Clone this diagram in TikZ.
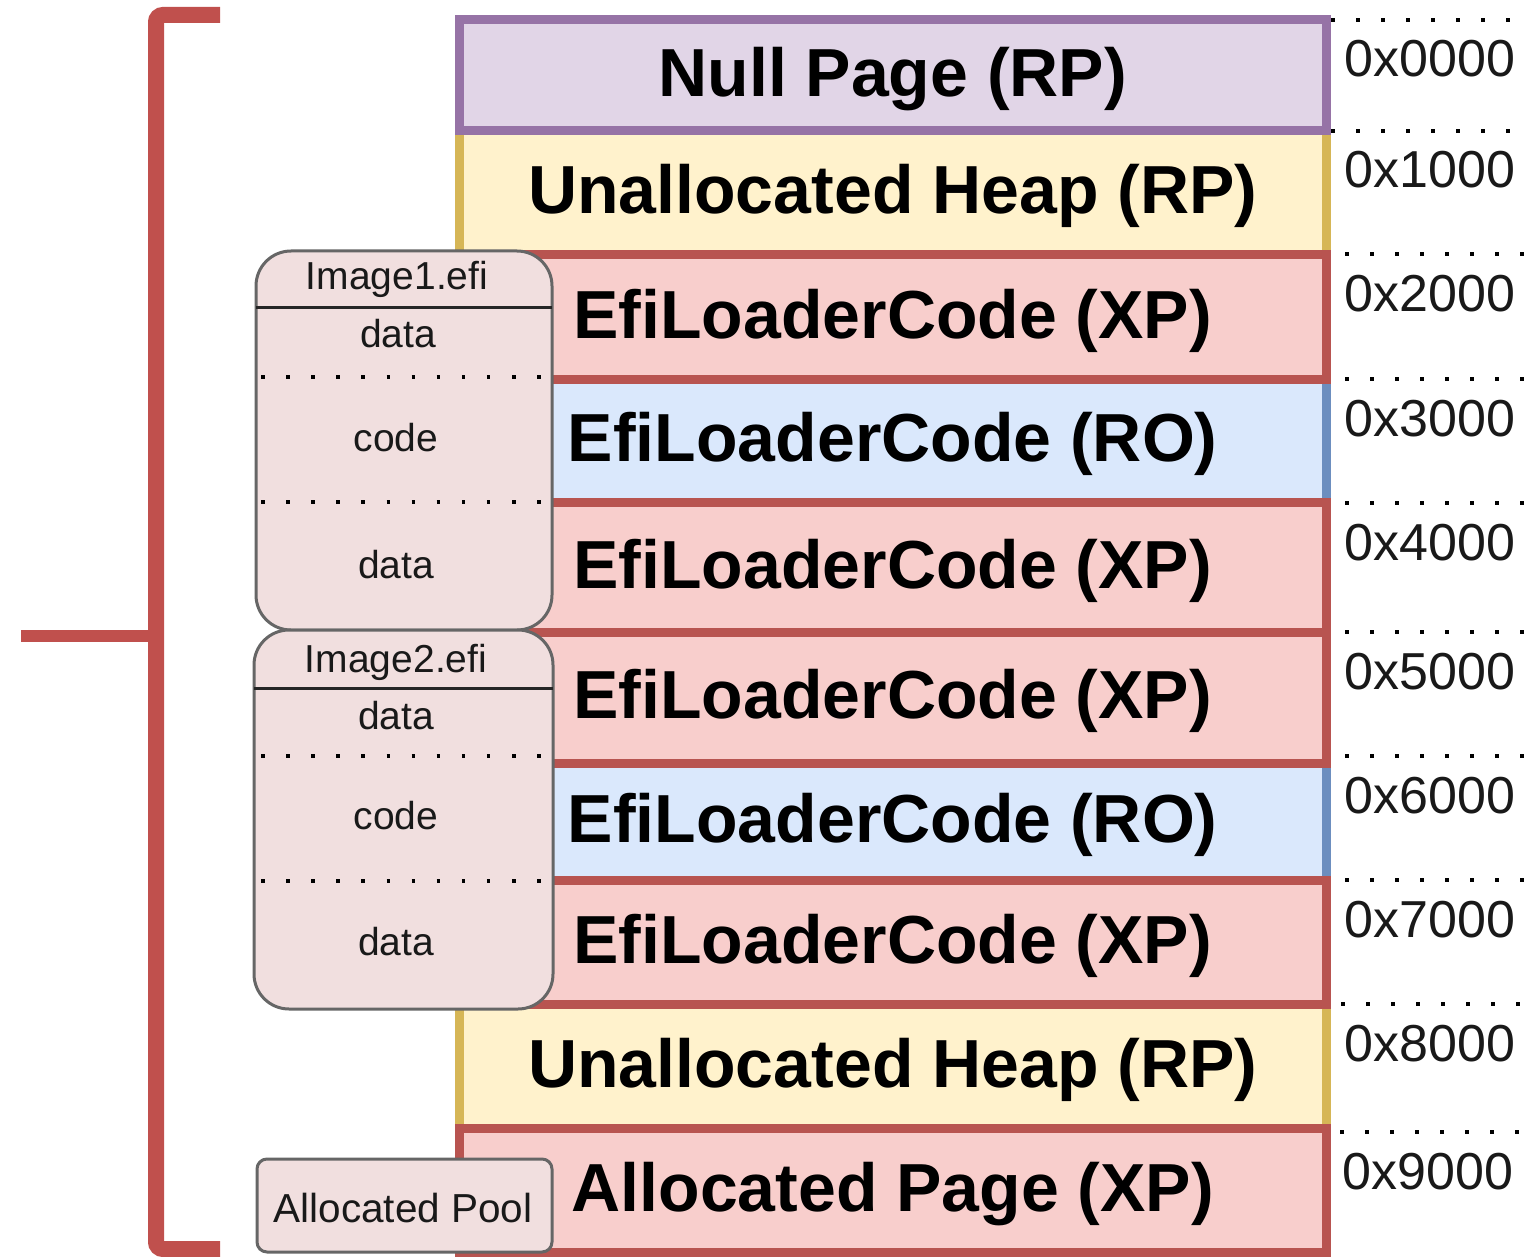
\documentclass[tikz,border=0pt]{standalone}
\usepackage{fontspec}
\setmainfont{Liberation Sans}

% memory-map palette
\definecolor{nullline}{HTML}{9673A6}
\definecolor{nullfill}{HTML}{E1D5E7}
\definecolor{heapline}{HTML}{D6B656}
\definecolor{heapfill}{HTML}{FFF2CC}
\definecolor{xpline}{HTML}{B85450}
\definecolor{xpfill}{HTML}{F8CECC}
\definecolor{roline}{HTML}{6C8EBF}
\definecolor{rofill}{HTML}{DAE8FC}
\definecolor{braceline}{HTML}{C0504D}
\definecolor{imgfill}{HTML}{F1DFDF}
\definecolor{imgline}{HTML}{666666}

\tikzset{
  memrow/.style={draw, line width=9pt, minimum width=867.5pt, inner sep=0pt, outer sep=0pt},
  nullrow/.style={memrow, draw=nullline, fill=nullfill},
  heaprow/.style={memrow, draw=heapline, fill=heapfill},
  xprow/.style={memrow, draw=xpline, fill=xpfill},
  rorow/.style={memrow, draw=roline, fill=rofill},
  rowlabel/.style={font=\fontsize{68}{80}\selectfont\bfseries, anchor=base, inner sep=0pt},
  addrlabel/.style={font=\fontsize{52}{60}\selectfont, text=black!90, anchor=base, inner sep=0pt},
  addrdots/.style={line width=4pt, dash pattern=on 4pt off 21pt, black},
  imgbox/.style={draw=imgline, fill=imgfill, line width=3pt, inner sep=0pt, outer sep=0pt},
  imgtext/.style={font=\fontsize{39}{44}\selectfont, text=black!90, anchor=base, inner sep=0pt},
  imghead/.style={line width=3pt, black!85},
  imgdots/.style={line width=3.5pt, dash pattern=on 3.5pt off 21.6pt, black},
  bracket/.style={draw=braceline, line width=16pt, rounded corners=7pt},
}

\begin{document}
\begin{tikzpicture}[x=1pt, y=-1pt]
  \useasboundingbox (0,0) rectangle (1537,1257);

  % background rows (yellow / blue) first, their edges are overdrawn
  \node[heaprow, minimum height=124pt]   (heapA) at (892.75,193)    {};
  \node[rorow,   minimum height=123.5pt] (roA)   at (892.75,440.75) {};
  \node[rorow,   minimum height=117.5pt] (roB)   at (892.75,821.75) {};
  \node[heaprow, minimum height=124pt]   (heapB) at (892.75,1066.5) {};
  % red and purple rows on top
  \node[xprow,   minimum height=124pt]   (xpA)   at (892.75,317)    {};
  \node[xprow,   minimum height=130pt]   (xpB)   at (892.75,567.5)  {};
  \node[xprow,   minimum height=130.5pt] (xpC)   at (892.75,697.75) {};
  \node[xprow,   minimum height=124pt]   (xpD)   at (892.75,942.5)  {};
  \node[xprow,   minimum height=124pt]   (page)  at (892.75,1190.5) {};
  \node[nullrow, minimum height=111.5pt] (null)  at (892.75,75.25)  {};

  % row labels
  \node[rowlabel] (lnull)  at ([yshift=-21.5pt]null.center)  {Null Page (RP)};
  \node[rowlabel] (lheapA) at ([yshift=-21pt]heapA.center)   {Unallocated Heap (RP)};
  \node[rowlabel] (lxpA)   at ([yshift=-21pt]xpA.center)     {EfiLoaderCode (XP)};
  \node[rowlabel] (lroA)   at ([yshift=-21pt]roA.center)     {EfiLoaderCode (RO)};
  \node[rowlabel] (lxpB)   at ([yshift=-21pt]xpB.center)     {EfiLoaderCode (XP)};
  \node[rowlabel] (lxpC)   at ([yshift=-21pt]xpC.center)     {EfiLoaderCode (XP)};
  \node[rowlabel] (lroB)   at ([yshift=-21pt]roB.center)     {EfiLoaderCode (RO)};
  \node[rowlabel] (lxpD)   at ([yshift=-21pt]xpD.center)     {EfiLoaderCode (XP)};
  \node[rowlabel] (lheapB) at ([yshift=-21pt]heapB.center)   {Unallocated Heap (RP)};
  \node[rowlabel] (lpage)  at ([yshift=-21pt]page.center)    {Allocated Page (XP)};

  % address ticks and labels
  \draw[addrdots] (1331,20)   -- (1512,20);
  \draw[addrdots] (1331,131)  -- (1512,131);
  \draw[addrdots] (1345,254)  -- (1526,254);
  \draw[addrdots] (1345,379)  -- (1526,379);
  \draw[addrdots] (1345,503)  -- (1526,503);
  \draw[addrdots] (1345,632)  -- (1526,632);
  \draw[addrdots] (1345,756)  -- (1526,756);
  \draw[addrdots] (1345,880)  -- (1526,880);
  \draw[addrdots] (1341,1004) -- (1522,1004);
  \draw[addrdots] (1340,1132) -- (1521,1132);

  \node[addrlabel] (a0) at (1430,77)   {0x0000};
  \node[addrlabel] (a1) at (1430,188)  {0x1000};
  \node[addrlabel] (a2) at (1430,312)  {0x2000};
  \node[addrlabel] (a3) at (1430,436)  {0x3000};
  \node[addrlabel] (a4) at (1430,560)  {0x4000};
  \node[addrlabel] (a5) at (1430,689)  {0x5000};
  \node[addrlabel] (a6) at (1430,813)  {0x6000};
  \node[addrlabel] (a7) at (1430,937)  {0x7000};
  \node[addrlabel] (a8) at (1430,1061) {0x8000};
  \node[addrlabel] (a9) at (1428,1189) {0x9000};

  % loaded images
  \node[imgbox, rounded corners=35pt, minimum width=296pt, minimum height=379pt] (img1) at (404,440.5) {};
  \node[imgbox, rounded corners=35pt, minimum width=299pt, minimum height=379pt] (img2) at (403.5,819.5) {};
  \node[imgbox, rounded corners=10pt, minimum width=295pt, minimum height=93pt]  (pool) at (404.5,1205.5) {};

  \draw[imghead] (img1.west |- 0,308) -- (img1.east |- 0,308);
  \draw[imgdots] (261,377) -- (543,377);
  \draw[imgdots] (261,502) -- (543,502);
  \draw[imghead] (img2.west |- 0,688) -- (img2.east |- 0,688);
  \draw[imgdots] (261,756) -- (543,756);
  \draw[imgdots] (261,881) -- (543,881);

  \node[imgtext] (i1name) at (397,290) {Image1.efi};
  \node[imgtext] (i1d1)   at (398,348) {data};
  \node[imgtext] (i1c)    at (396,451) {code};
  \node[imgtext] (i1d2)   at (396,578) {data};
  \node[imgtext] (i2name) at (396,672) {Image2.efi};
  \node[imgtext] (i2d1)   at (396,729) {data};
  \node[imgtext] (i2c)    at (396,829) {code};
  \node[imgtext] (i2d2)   at (396,955) {data};
  \node[imgtext, font=\fontsize{40.5}{46}\selectfont] (pooltx) at (403,1222) {Allocated Pool};

  % bracket spanning the whole map
  \coordinate (btop) at (220,15);
  \coordinate (bbot) at (220,1249);
  \coordinate (btip) at (21,636);
  \coordinate (bmid) at (156,636);
  \draw[bracket] (btop) -- (156,15) -- (156,1249) -- (bbot);
  \draw[draw=braceline, line width=12pt] (bmid) -- (btip);
\end{tikzpicture}
\end{document}
